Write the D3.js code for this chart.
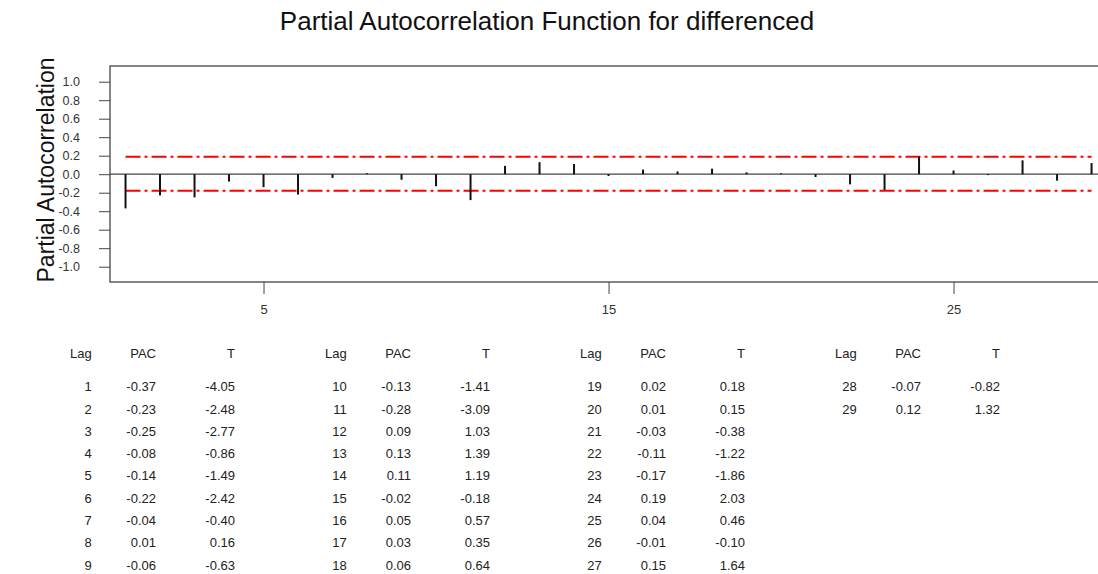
<!DOCTYPE html>
<html>
<head>
<meta charset="utf-8">
<script src="https://cdn.jsdelivr.net/npm/d3@7"></script>
<style>
  html, body { margin: 0; padding: 0; background: #fff; }
  svg { display: block; font-family: "Liberation Sans", Arial, sans-serif; }
</style>
</head>
<body>
<svg id="chart" width="1098" height="574"></svg>
<script>
// ---- data ----
const lags = [1,2,3,4,5,6,7,8,9,10,11,12,13,14,15,16,17,18,19,20,21,22,23,24,25,26,27,28,29];
const pac = [-0.37,-0.23,-0.25,-0.08,-0.14,-0.22,-0.04,0.01,-0.06,-0.13,-0.28,0.09,0.13,0.11,-0.02,0.05,0.03,0.06,0.02,0.01,-0.03,-0.11,-0.17,0.19,0.04,-0.01,0.15,-0.07,0.12];
const tvals = ["-4.05","-2.48","-2.77","-0.86","-1.49","-2.42","-0.40","0.16","-0.63","-1.41","-3.09","1.03","1.39","1.19","-0.18","0.57","0.35","0.64","0.18","0.15","-0.38","-1.22","-1.86","2.03","0.46","-0.10","1.64","-0.82","1.32"];
const limits = [0.19, -0.18];
const yTicks = [1.0,0.8,0.6,0.4,0.2,0.0,-0.2,-0.4,-0.6,-0.8,-1.0];
const xTicks = [5,15,25];
const tableHeaders = ["Lag","PAC","T"];

const svg = d3.select("#chart");
const box = {left:110, right:1100, top:66, bottom:282};

const x = d3.scaleLinear().domain([0.55, 29.245]).range([box.left, box.right]);
const y = d3.scaleLinear().domain([-1, 1]).range([266.7, 81.7]);

// title
svg.append("text").attr("x", 547).attr("y", 30).attr("text-anchor","middle")
  .attr("font-size", 26).attr("fill","#111").text("Partial Autocorrelation Function for differenced");

// y label
svg.append("text").attr("transform","translate(54,170) rotate(-90)").attr("text-anchor","middle")
  .attr("font-size", 23).attr("fill","#111").text("Partial Autocorrelation");

// box
svg.append("rect").attr("x", box.left).attr("y", box.top)
  .attr("width", box.right-box.left).attr("height", box.bottom-box.top)
  .attr("fill","none").attr("stroke","#444").attr("stroke-width",1.3);

// y axis
const yAxis = d3.axisLeft(y).tickValues(yTicks).tickSize(11).tickPadding(19);
const gy = svg.append("g").attr("transform",`translate(${box.left},0)`).call(yAxis);
gy.select(".domain").remove();
gy.selectAll(".tick line").attr("stroke","#444");
gy.selectAll(".tick text").attr("font-size",12.5).attr("fill","#333").attr("font-family","Liberation Sans, Arial, sans-serif")
  .text(d => d3.format(".1f")(d).replace("−","-"));

// x axis
const xAxis = d3.axisBottom(x).tickValues(xTicks).tickSize(12).tickPadding(11);
const gx = svg.append("g").attr("transform",`translate(0,${box.bottom})`).call(xAxis);
gx.select(".domain").remove();
gx.selectAll(".tick line").attr("stroke","#444");
gx.selectAll(".tick text").attr("font-size",13).attr("fill","#333").attr("font-family","Liberation Sans, Arial, sans-serif");

// zero line
svg.append("line").attr("x1", box.left).attr("x2", box.right)
  .attr("y1", y(0)).attr("y2", y(0)).attr("stroke","#444").attr("stroke-width",1.3);

// limit lines
svg.selectAll("line.limit").data(limits).enter().append("line").attr("class","limit")
  .attr("x1", x(lags[0])).attr("x2", x(lags[lags.length-1]))
  .attr("y1", d => y(d)).attr("y2", d => y(d))
  .attr("stroke","#ff0000").attr("stroke-width",2).attr("stroke-dasharray","15,4,3,4");

// bars
svg.selectAll("line.bar").data(lags).enter().append("line").attr("class","bar")
  .attr("x1", d => x(d)).attr("x2", d => x(d))
  .attr("y1", y(0)).attr("y2", (d,i) => y(pac[i]))
  .attr("stroke","#111").attr("stroke-width",2);

// table
const groupSize = 9;
const colRight = [91.7, 156, 235];
const groupOffset = 255;
const headerY = 353.5, rowY0 = 386.7, rowStep = 22.3;
const nGroups = Math.ceil(lags.length / groupSize);
const tg = svg.append("g").attr("font-size",13).attr("fill","#222");
for (let g = 0; g < nGroups; g++) {
  tableHeaders.forEach((h, c) => {
    tg.append("text").attr("x", colRight[c] + g*groupOffset).attr("y", headerY)
      .attr("text-anchor","end").attr("dominant-baseline","central").text(h);
  });
}
lags.forEach((lag, i) => {
  const g = Math.floor(i / groupSize), r = i % groupSize;
  const yy = rowY0 + r*rowStep;
  const vals = [String(lag), pac[i].toFixed(2), tvals[i]];
  vals.forEach((v, c) => {
    tg.append("text").attr("x", colRight[c] + g*groupOffset).attr("y", yy)
      .attr("text-anchor","end").attr("dominant-baseline","central").text(v);
  });
});
</script>
</body>
</html>
